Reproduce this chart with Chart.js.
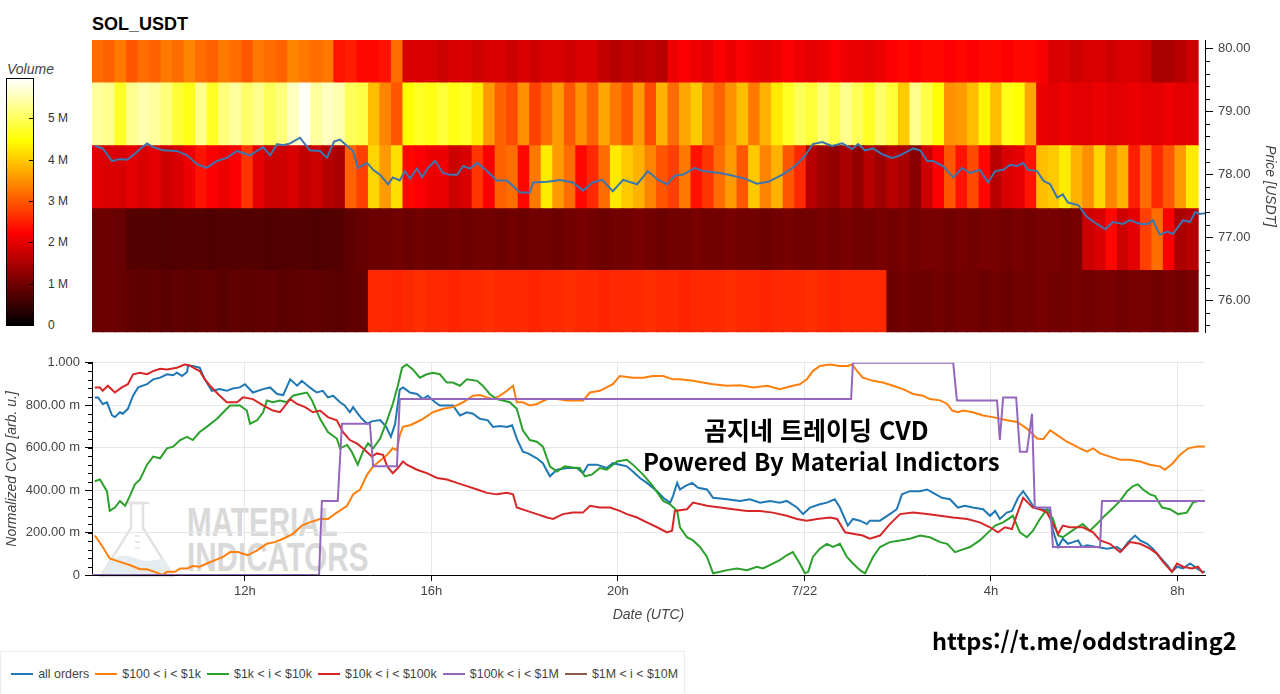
<!DOCTYPE html>
<html lang="ko">
<head>
<meta charset="UTF-8">
<title>SOL_USDT CVD</title>
<script src="https://cdn.jsdelivr.net/npm/chart.js@4.4.1/dist/chart.umd.min.js"></script>
<style>
    body {
        margin: 0;
        width: 1280px;
        height: 694px;
        background: #fff;
        position: relative;
        overflow: hidden;
        font-family: "Liberation Sans", Arial, sans-serif;
    }
    canvas { position: absolute; left: 0; z-index: 2; }
    #heat { top: 0; }
    #cvd { top: 350px; }
    #title {
        position: absolute; left: 92px; top: 15px;
        font: bold 18px/18px "Liberation Sans", Arial, sans-serif; color: #000;
    }
    #volLabel {
        position: absolute; left: 7px; top: 62px;
        font: italic 14px/14px "Liberation Sans", Arial, sans-serif; color: #444;
    }
    #cbar {
        position: absolute; left: 6px; top: 78px; width: 28px; height: 248px;
        box-sizing: border-box; border: 1px solid #000;
    }
    .cb-lbl {
        position: absolute; left: 48px;
        font: 12px/12px "Liberation Sans", Arial, sans-serif; color: #333;
    }
    .cb-tick { position: absolute; left: 29px; width: 5px; height: 1px; background: #000; }
    #wm { position: absolute; left: 95px; top: 498px; z-index: 1; }
    #wmText {
        position: absolute; left: 187px; top: 505px; z-index: 1;
        font: bold 40px/35px "Liberation Sans", Arial, sans-serif; color: #d9d9d9;
        transform: scaleX(0.74); transform-origin: left top; white-space: nowrap;
    }
    .kr {
        position: absolute; z-index: 3; white-space: nowrap; color: #000;
        font-family: "Noto Sans CJK KR", "Noto Sans", sans-serif; font-weight: bold;
    }
    #legend {
        position: absolute; left: 0; top: 651px; width: 685px; height: 60px;
        border: 1px solid #ececec; box-sizing: border-box;
        display: flex; align-items: flex-start; padding: 15px 0 0 10px;
        font: 12.4px/14px "Liberation Sans", Arial, sans-serif; color: #444;
    }
    .lg-line { display: inline-block; width: 23px; height: 2px; margin: 6px 5px 0 0; }
    .lg-text { margin-right: 6px; white-space: nowrap; }
</style>
</head>
<body>
<div id="title">SOL_USDT</div>
<div id="volLabel">Volume</div>
<div id="cbar"></div>

<svg id="wm" width="82" height="80" viewBox="0 0 82 80">
    <path d="M6 78 L36 30 L36 5 L48 5 L48 30 L78 78 Z" fill="none" stroke="#e2e2e2" stroke-width="2.5"/>
    <path d="M30 5 L54 5" stroke="#e2e2e2" stroke-width="2.5"/>
    <path d="M16 62 Q28 54 40 60 Q54 66 68 60 L78 78 L6 78 Z" fill="#e6edf1"/>
    <path d="M40 38 L45 38 M40 44 L45 44 M40 50 L45 50" stroke="#e2e2e2" stroke-width="1.5"/>
</svg>
<div id="wmText">MATERIAL<br>INDICATORS</div>

<canvas id="heat" width="1280" height="345"></canvas>
<canvas id="cvd" width="1280" height="280"></canvas>

<div class="kr" id="kr1" style="left:704px; top:414px; font-size:25px; line-height:30px;">곰지네 트레이딩 CVD</div>
<div class="kr" id="kr2" style="left:643px; top:446px; font-size:24px; line-height:30px;">Powered By Material Indictors</div>
<div class="kr" id="url" style="left:932px; top:625px; font-size:23.5px; line-height:30px;">https://t.me/oddstrading2</div>

<div id="legend"></div>

<script>
    // ---- time axis (hours from 7/21 00:00 UTC) ----
    const T0 = 8.72, T1 = 32.59;
    const timeTicks = [12, 16, 20, 24, 28, 32];
    const timeTickLabels = ['12h', '16h', '20h', '7/22', '4h', '8h'];

    // ---- heatmap: volume (M) per price bin, 96 time columns ----
    const heatStart = 8.72, heatStep = 0.2471;
    const priceBinEdges = [75.47, 76.47, 77.45, 78.45, 79.45, 80.45];
    const vol76 = [0.95,0.95,0.9,
        0.85,0.82,0.85,0.8,0.85,0.82,0.85, 0.85,0.8,0.85,0.82,0.85,0.85,0.8, 0.82,0.85,0.85,0.82,0.8,0.85,0.85,
        2.6,2.6,2.55,2.6,2.65,2.6,2.6,2.55,2.6, 2.6,2.65,2.6,2.6,2.6,2.55,2.6,2.6,2.65,
        2.6,2.6,2.55,2.6,2.6,2.6,2.65,2.6,2.6, 2.55,2.6,2.6,2.6,2.65,2.6,2.6,2.55,2.6,
        2.6,2.6,2.65,2.6,2.55,2.6,2.6,2.6,2.6,
        0.95,1.0,0.95,0.95,1.0,0.95,1.0,1.0,0.95, 1.0,0.95,1.0,1.0,1.05,1.0,1.0,1.05,1.0,
        1.05,1.05,1.0,1.05,1.05,1.0,1.05,1.0,1.05];
    const vol77 = [0.95,0.95,0.9,
        0.75,0.72,0.75,0.7,0.72,0.75,0.72,0.7,0.75,0.72,0.72,0.75,0.7,0.72,0.75,0.72,0.7,0.72,0.75,
        0.85,0.9,0.95,0.95,1.0,0.95,1.0,0.95, 0.95,1.0,0.95,1.0,1.0,0.95,1.0,0.95,
        1.0,1.0,0.95,1.0,1.05,1.0,0.95,1.0, 1.0,1.05,1.0,0.95,1.0,1.0,1.05,1.0,
        1.0,1.05,1.0,1.0,0.95,1.0,1.05,1.0, 1.0,1.05,1.0,1.05,1.0,1.0,1.05,1.0,
        1.05,1.0,1.05,1.05,1.0,1.05,1.0,1.05, 1.05,1.0,1.05,1.0,1.05,1.05,1.0,1.05,
        1.8,1.9,2.3,1.8,2.0,2.8,3.2,2.2,1.5,1.6];
    const vol78 = [2.0,1.9,1.9,2.0,1.9,2.0,1.8,1.9,2.1,2.4,
        2.2,2.1,2.2,2.7,2.0,1.8,1.8,1.9,1.7,1.8,
        1.6,1.5,3.1,2.8,4.1,3.6,4.2,2.3,2.2,2.1,
        2.1,1.8,1.9,2.7,2.2,3.1,3.2,2.3,3.3,4.3,
        3.6,3.2,2.3,2.6,3.2,4.3,4.0,3.8,3.4,3.0,
        2.8,3.3,2.4,2.7,3.2,3.6,3.0,4.0,3.4,3.8,
        3.0,2.6,1.6,1.4,1.3,1.5,1.3,1.6,1.4,1.6,
        1.5,1.2,1.8,2.2,3.0,2.4,2.9,2.3,1.6,1.9,
        2.0,2.4,3.9,4.0,4.3,3.8,3.5,4.1,3.4,3.8,
        2.5,3.2,2.6,3.0,3.6,4.3];
    const vol79 = [5.4,5.3,4.7,5.3,5.5,5.4,5.2,4.8,4.6,5.3,
        4.7,5.2,5.4,5.1,5.3,5.0,5.2,5.6,5.9,5.4,
        5.6,5.5,5.0,4.9,3.9,3.4,3.0,4.5,4.7,4.6,
        4.8,4.6,4.7,4.3,3.6,3.1,2.9,3.5,2.8,3.2,
        3.6,3.0,3.5,3.1,3.7,3.3,3.0,3.6,2.9,3.8,
        3.2,3.7,4.0,3.4,3.1,3.5,3.9,3.3,3.8,4.3,
        4.7,5.0,4.8,5.2,4.9,5.3,5.0,4.7,5.1,4.8,
        4.0,5.3,4.9,4.5,3.5,3.6,3.9,4.4,3.9,4.6,
        4.5,3.7,2.1,2.0,2.1,2.0,2.0,2.1,2.0,2.0,
        2.1,2.0,2.0,2.1,2.0,2.0];
    const vol80 = [3.2,3.1,3.3,3.0,3.2,3.1,3.3, 3.2,3.4,3.2,3.1,3.3,3.2,3.0, 3.3,3.2,3.1,3.4,3.3,3.2,3.3,
        2.4,2.5,2.3,2.3,2.4,3.2,1.9,
        1.9,1.9,1.8,1.9,1.9,1.8,1.9,1.9,1.8,1.9,1.8,1.9,1.9,1.8,1.9,1.9,1.7,
        1.6,1.7,1.6,1.7,1.6,
        2.1,2.2,2.1,2.0,2.2,2.1,2.2,2.1, 2.0,2.1,2.2,2.1,2.0,2.1,2.2,2.1,
        2.1,2.0,2.1,2.2,2.3,2.2,2.3,2.3, 2.2,2.3,2.2,2.3,2.3,2.2,2.3,2.3,
        2.2,
        1.9,1.9,1.8,1.9,1.9,1.8,1.9,1.9,1.8,
        1.5,1.5,1.6,
        1.8];
    const volumeBins = [vol76, vol77, vol78, vol79, vol80];
    const volMax = 5.97;
    const colorbarTicks = [0, 1, 2, 3, 4, 5];
    const colorbarLabels = ['0', '1 M', '2 M', '3 M', '4 M', '5 M'];

    // ---- price overlay [hour, USDT] ----
    const priceTicks = [76, 77, 78, 79, 80];
    const priceLine = [[8.78,78.45],[8.95,78.41],[9.15,78.21],[9.32,78.24],[9.47,78.23],[9.60,78.30],[9.75,78.40],[9.90,78.49],
        [10.03,78.43],[10.24,78.38],[10.54,78.37],[10.76,78.30],[10.97,78.16],[11.18,78.10],[11.40,78.21],[11.61,78.26],
        [11.83,78.37],[12.11,78.30],[12.39,78.43],[12.54,78.30],[12.69,78.48],[12.82,78.46],[12.97,78.49],[13.18,78.58],
        [13.39,78.38],[13.61,78.37],[13.76,78.26],[13.91,78.52],[14.04,78.55],[14.19,78.45],[14.32,78.37],[14.42,78.10],
        [14.62,78.18],[14.75,78.07],[14.90,77.99],[15.07,77.84],[15.17,77.95],[15.32,77.90],[15.43,78.05],[15.54,77.93],
        [15.69,78.09],[15.80,77.95],[15.92,78.10],[16.08,78.21],[16.25,78.02],[16.40,77.99],[16.55,77.99],[16.68,78.13],
        [16.83,78.09],[16.98,78.18],[17.19,78.05],[17.40,77.90],[17.62,77.90],[17.90,77.71],[18.11,77.71],[18.18,77.87],
        [18.48,77.88],[18.76,77.91],[19.03,77.87],[19.25,77.74],[19.46,77.87],[19.66,77.91],[19.89,77.73],[20.11,77.91],
        [20.41,77.84],[20.64,78.05],[20.86,77.91],[21.05,77.84],[21.22,77.98],[21.39,77.99],[21.65,78.10],[21.82,78.05],
        [22.19,78.02],[22.45,77.98],[22.72,77.93],[22.98,77.85],[23.22,77.88],[23.52,77.99],[23.80,78.13],[24.01,78.29],
        [24.18,78.48],[24.38,78.51],[24.59,78.45],[24.81,78.49],[25.02,78.40],[25.15,78.48],[25.30,78.38],[25.47,78.41],
        [25.66,78.32],[25.88,78.26],[26.05,78.30],[26.33,78.41],[26.48,78.38],[26.63,78.21],[26.76,78.21],[26.97,78.13],
        [27.19,77.95],[27.38,78.10],[27.55,78.02],[27.76,78.07],[27.94,77.87],[28.09,78.05],[28.26,78.07],[28.41,78.15],
        [28.56,78.13],[28.69,78.18],[28.79,78.07],[28.99,78.05],[29.12,77.90],[29.27,77.84],[29.42,77.63],[29.54,77.68],
        [29.65,77.55],[29.87,77.51],[30.06,77.32],[30.27,77.21],[30.45,77.13],[30.62,77.24],[30.83,77.21],[30.98,77.27],
        [31.20,77.21],[31.37,77.21],[31.47,77.27],[31.62,77.04],[31.78,77.09],[31.90,77.05],[32.12,77.27],[32.27,77.24],
        [32.38,77.40],[32.48,77.37],[32.59,77.38]];

    // ---- normalized CVD [hour, value] ----
    const cvdTicks = [0, 0.2, 0.4, 0.6, 0.8, 1.0];
    const cvdTickLabels = ['0', '200.00 m', '400.00 m', '600.00 m', '800.00 m', '1.000'];
    const seriesNames = ['all orders', '$100 < i < $1k', '$1k < i < $10k', '$10k < i < $100k', '$100k < i < $1M', '$1M < i < $10M'];
    const seriesColors = ['#1f77b4', '#ff7f0e', '#2ca02c', '#d62728', '#9467bd', '#8c564b'];

    const allOrders = [[8.78,0.837],[8.85,0.837],[8.95,0.806],[9.04,0.814],[9.15,0.752],[9.21,0.744],[9.32,0.767],[9.38,0.760],
        [9.49,0.783],[9.60,0.845],[9.71,0.884],[9.90,0.899],[10.03,0.922],[10.18,0.930],[10.33,0.946],[10.46,0.941],
        [10.54,0.953],[10.65,0.938],[10.76,0.957],[10.78,0.987],[10.88,0.985],[11.03,0.977],[11.14,0.922],[11.29,0.868],
        [11.46,0.876],[11.61,0.868],[11.74,0.879],[11.89,0.884],[12.00,0.899],[12.17,0.860],[12.39,0.876],[12.54,0.884],
        [12.69,0.853],[12.82,0.848],[12.97,0.922],[13.12,0.892],[13.22,0.915],[13.39,0.884],[13.54,0.860],[13.67,0.868],
        [13.78,0.837],[13.89,0.845],[14.04,0.814],[14.14,0.799],[14.25,0.767],[14.32,0.791],[14.42,0.760],[14.51,0.736],
        [14.62,0.713],[14.72,0.724],[14.90,0.730],[15.03,0.698],[15.13,0.651],[15.22,0.712],[15.32,0.874],[15.39,0.884],
        [15.54,0.860],[15.69,0.853],[15.82,0.829],[15.92,0.845],[16.08,0.814],[16.18,0.799],[16.33,0.799],[16.46,0.799],
        [16.61,0.752],[16.76,0.767],[16.89,0.760],[17.04,0.736],[17.21,0.729],[17.32,0.698],[17.47,0.702],[17.62,0.698],
        [17.73,0.706],[17.83,0.643],[17.96,0.581],[18.07,0.573],[18.26,0.550],[18.39,0.527],[18.54,0.465],[18.69,0.496],
        [18.91,0.504],[19.12,0.504],[19.25,0.480],[19.36,0.520],[19.55,0.520],[19.76,0.504],[19.89,0.527],[20.04,0.520],
        [20.19,0.512],[20.32,0.488],[20.47,0.457],[20.62,0.434],[20.84,0.395],[20.97,0.364],[21.12,0.341],[21.18,0.372],
        [21.27,0.434],[21.33,0.403],[21.44,0.419],[21.59,0.434],[21.72,0.411],[21.91,0.403],[22.04,0.364],[22.34,0.357],
        [22.62,0.349],[22.83,0.357],[23.05,0.341],[23.26,0.349],[23.47,0.341],[23.62,0.349],[23.84,0.318],[23.97,0.287],
        [24.12,0.318],[24.33,0.333],[24.48,0.341],[24.65,0.357],[24.76,0.318],[24.93,0.233],[25.04,0.264],[25.19,0.256],
        [25.34,0.240],[25.40,0.256],[25.62,0.256],[25.83,0.287],[25.98,0.310],[26.09,0.380],[26.26,0.395],[26.48,0.395],
        [26.63,0.403],[26.76,0.387],[26.95,0.364],[27.12,0.357],[27.29,0.318],[27.44,0.326],[27.61,0.318],[27.83,0.310],
        [27.98,0.279],[28.09,0.302],[28.19,0.264],[28.34,0.294],[28.45,0.302],[28.58,0.364],[28.69,0.395],[28.79,0.364],
        [28.90,0.326],[29.05,0.310],[29.27,0.306],[29.33,0.209],[29.44,0.132],[29.54,0.171],[29.65,0.147],[29.76,0.155],
        [29.87,0.163],[29.95,0.132],[30.06,0.140],[30.27,0.132],[30.49,0.124],[30.70,0.132],[30.81,0.116],[30.94,0.155],
        [31.09,0.186],[31.20,0.163],[31.35,0.147],[31.47,0.124],[31.62,0.085],[31.78,0.047],[31.88,0.015],[31.99,0.039],
        [32.12,0.031],[32.27,0.054],[32.42,0.031],[32.53,0.015],[32.59,0.015]];

    const orders100 = [[8.78,0.186],[8.95,0.132],[9.10,0.078],[9.32,0.062],[9.53,0.047],[9.75,0.027],[9.90,0.027],[10.11,0.011],
        [10.22,0.000],[10.33,0.015],[10.50,0.015],[10.61,0.031],[10.76,0.031],[10.88,0.042],[11.03,0.039],[11.18,0.054],
        [11.36,0.070],[11.53,0.085],[11.68,0.108],[11.85,0.108],[12.06,0.093],[12.26,0.116],[12.47,0.147],[12.64,0.155],
        [12.82,0.171],[13.03,0.194],[13.22,0.233],[13.39,0.248],[13.61,0.264],[13.78,0.264],[13.97,0.294],[14.19,0.326],
        [14.32,0.380],[14.47,0.403],[14.62,0.473],[14.75,0.512],[14.96,0.550],[15.05,0.566],[15.17,0.597],[15.26,0.589],
        [15.32,0.659],[15.39,0.698],[15.54,0.706],[15.69,0.721],[15.82,0.736],[16.03,0.767],[16.25,0.783],[16.46,0.791],
        [16.68,0.814],[16.89,0.845],[17.04,0.848],[17.19,0.837],[17.32,0.829],[17.47,0.845],[17.62,0.868],[17.75,0.892],
        [17.83,0.814],[17.96,0.814],[18.11,0.799],[18.26,0.806],[18.48,0.829],[18.69,0.829],[18.91,0.822],[19.12,0.822],
        [19.25,0.822],[19.40,0.860],[19.61,0.868],[19.89,0.899],[20.04,0.938],[20.32,0.930],[20.54,0.930],[20.75,0.938],
        [20.97,0.938],[21.18,0.922],[21.33,0.922],[21.61,0.915],[21.82,0.907],[22.04,0.899],[22.34,0.892],[22.62,0.894],
        [22.90,0.884],[23.20,0.892],[23.47,0.876],[23.75,0.892],[23.90,0.899],[24.05,0.922],[24.18,0.961],[24.33,0.985],
        [24.55,0.992],[24.76,0.985],[24.93,0.985],[25.02,0.992],[25.13,0.961],[25.25,0.930],[25.47,0.915],[25.68,0.907],
        [25.90,0.892],[26.11,0.876],[26.33,0.853],[26.54,0.845],[26.69,0.829],[26.91,0.823],[27.06,0.806],[27.17,0.775],
        [27.29,0.767],[27.40,0.775],[27.61,0.767],[27.83,0.752],[28.04,0.744],[28.34,0.729],[28.56,0.721],[28.77,0.690],
        [28.99,0.643],[29.12,0.640],[29.27,0.682],[29.42,0.659],[29.63,0.628],[29.91,0.597],[30.06,0.581],[30.19,0.597],
        [30.34,0.573],[30.55,0.558],[30.77,0.543],[30.98,0.543],[31.20,0.535],[31.41,0.520],[31.62,0.512],[31.73,0.496],
        [31.90,0.527],[32.05,0.566],[32.23,0.597],[32.42,0.605],[32.59,0.605]];

    const orders1k = [[8.78,0.442],[8.89,0.450],[9.04,0.395],[9.10,0.302],[9.21,0.318],[9.32,0.349],[9.43,0.326],[9.53,0.372],
        [9.64,0.427],[9.75,0.450],[9.90,0.520],[10.03,0.558],[10.18,0.550],[10.33,0.597],[10.46,0.605],[10.61,0.636],
        [10.76,0.651],[10.88,0.636],[11.03,0.674],[11.18,0.698],[11.40,0.736],[11.68,0.799],[11.89,0.799],[12.04,0.775],
        [12.11,0.713],[12.26,0.729],[12.39,0.767],[12.47,0.822],[12.60,0.814],[12.75,0.822],[12.90,0.814],[13.03,0.845],
        [13.18,0.853],[13.33,0.860],[13.44,0.822],[13.61,0.736],[13.78,0.674],[13.97,0.643],[14.04,0.597],[14.19,0.613],
        [14.29,0.581],[14.42,0.520],[14.53,0.581],[14.64,0.620],[14.75,0.597],[14.90,0.643],[15.05,0.730],[15.17,0.806],
        [15.28,0.892],[15.37,0.977],[15.47,0.992],[15.60,0.969],[15.75,0.930],[15.90,0.946],[16.03,0.953],[16.18,0.946],
        [16.33,0.907],[16.46,0.907],[16.61,0.892],[16.76,0.922],[16.98,0.915],[17.10,0.892],[17.25,0.853],[17.40,0.829],
        [17.53,0.822],[17.68,0.814],[17.83,0.783],[17.96,0.682],[18.11,0.636],[18.26,0.628],[18.39,0.605],[18.54,0.512],
        [18.69,0.488],[18.86,0.512],[19.03,0.507],[19.18,0.504],[19.29,0.465],[19.44,0.473],[19.61,0.504],[19.76,0.496],
        [19.98,0.535],[20.19,0.543],[20.32,0.520],[20.54,0.473],[20.75,0.419],[20.97,0.349],[21.12,0.333],[21.27,0.302],
        [21.33,0.225],[21.48,0.178],[21.61,0.163],[21.76,0.132],[21.91,0.085],[22.04,0.008],[22.19,0.015],[22.34,0.023],
        [22.55,0.031],[22.77,0.023],[22.98,0.039],[23.11,0.031],[23.32,0.054],[23.47,0.070],[23.62,0.093],[23.75,0.108],
        [23.90,0.054],[24.01,0.008],[24.08,0.015],[24.18,0.085],[24.33,0.124],[24.48,0.147],[24.61,0.132],[24.76,0.147],
        [24.91,0.085],[25.04,0.054],[25.19,0.023],[25.30,0.008],[25.47,0.085],[25.62,0.132],[25.83,0.155],[26.05,0.163],
        [26.26,0.171],[26.48,0.186],[26.69,0.178],[26.91,0.155],[27.06,0.147],[27.23,0.108],[27.34,0.116],[27.55,0.132],
        [27.76,0.163],[27.98,0.209],[28.09,0.233],[28.26,0.248],[28.47,0.279],[28.62,0.201],[28.77,0.178],[28.90,0.209],
        [29.05,0.264],[29.20,0.310],[29.33,0.264],[29.44,0.186],[29.54,0.178],[29.69,0.201],[29.85,0.225],[29.97,0.240],
        [30.12,0.209],[30.27,0.240],[30.40,0.271],[30.55,0.302],[30.77,0.349],[30.92,0.395],[31.05,0.419],[31.15,0.427],
        [31.26,0.403],[31.41,0.380],[31.52,0.372],[31.67,0.318],[31.84,0.310],[32.01,0.287],[32.20,0.294],[32.33,0.341],
        [32.44,0.349]];

    const orders10k = [[8.78,0.884],[8.89,0.884],[8.95,0.868],[9.06,0.892],[9.21,0.860],[9.36,0.884],[9.49,0.899],[9.60,0.946],
        [9.75,0.953],[9.90,0.946],[10.03,0.961],[10.18,0.972],[10.33,0.969],[10.54,0.977],[10.71,0.992],[10.82,0.987],
        [10.93,0.972],[11.03,0.961],[11.14,0.922],[11.25,0.892],[11.46,0.845],[11.61,0.814],[11.83,0.814],[11.96,0.837],
        [12.17,0.829],[12.39,0.799],[12.60,0.775],[12.75,0.767],[12.97,0.829],[13.12,0.806],[13.29,0.791],[13.46,0.767],
        [13.61,0.775],[13.78,0.744],[13.97,0.729],[14.10,0.674],[14.25,0.636],[14.40,0.620],[14.53,0.597],[14.72,0.558],
        [14.83,0.573],[14.96,0.566],[15.05,0.512],[15.17,0.480],[15.28,0.504],[15.39,0.535],[15.47,0.520],[15.69,0.496],
        [15.90,0.480],[16.12,0.457],[16.33,0.450],[16.55,0.434],[16.76,0.419],[16.98,0.403],[17.19,0.387],[17.40,0.380],
        [17.62,0.387],[17.75,0.380],[17.83,0.318],[18.05,0.302],[18.26,0.287],[18.48,0.271],[18.61,0.264],[18.82,0.287],
        [19.03,0.294],[19.25,0.294],[19.40,0.326],[19.61,0.318],[19.83,0.318],[20.04,0.302],[20.19,0.287],[20.41,0.271],
        [20.62,0.248],[20.84,0.225],[21.05,0.201],[21.16,0.209],[21.22,0.302],[21.48,0.310],[21.61,0.341],[21.91,0.326],
        [22.19,0.318],[22.47,0.310],[22.77,0.302],[23.05,0.302],[23.32,0.294],[23.62,0.279],[23.84,0.264],[24.05,0.256],
        [24.27,0.264],[24.55,0.271],[24.70,0.264],[24.87,0.201],[25.04,0.194],[25.25,0.186],[25.40,0.171],[25.62,0.186],
        [25.83,0.240],[26.05,0.287],[26.33,0.294],[26.63,0.287],[26.91,0.279],[27.19,0.271],[27.49,0.264],[27.76,0.248],
        [27.98,0.225],[28.15,0.201],[28.30,0.225],[28.45,0.217],[28.56,0.287],[28.69,0.364],[28.79,0.341],[28.90,0.318],
        [29.05,0.310],[29.20,0.294],[29.33,0.240],[29.44,0.194],[29.54,0.233],[29.69,0.225],[29.85,0.225],[29.97,0.225],
        [30.19,0.201],[30.34,0.163],[30.55,0.147],[30.77,0.108],[30.98,0.155],[31.20,0.147],[31.41,0.124],[31.56,0.101],
        [31.69,0.062],[31.88,0.015],[31.99,0.054],[32.12,0.039],[32.31,0.031],[32.44,0.039],[32.55,0.008]];

    const orders100k = [[8.72,0],[13.59,0],[13.65,0.349],[13.99,0.349],[14.08,0.713],[14.68,0.713],[14.75,0.512],[15.26,0.512],
        [15.32,0.829],[25.00,0.829],[25.04,1.0],[27.19,1.0],[27.27,0.822],[28.13,0.822],[28.19,0.636],[28.26,0.837],
        [28.54,0.837],[28.62,0.581],[28.77,0.581],[28.88,0.760],[28.94,0.318],[29.27,0.318],[29.33,0.132],[30.34,0.132],
        [30.38,0.349],[32.59,0.349]];

    const orders1M = [];

    const cvdSeries = [allOrders, orders100, orders1k, orders10k, orders100k, orders1M];

    // ---- helpers ----
    function hot(v) {
        const t = Math.max(0, Math.min(1, v / volMax));
        const r = Math.min(1, t / 0.375);
        const g = Math.max(0, Math.min(1, (t - 0.375) / 0.375));
        const b = Math.max(0, Math.min(1, (t - 0.75) / 0.25));
        return `rgb(${Math.round(r * 255)},${Math.round(g * 255)},${Math.round(b * 255)})`;
    }

    const minorTicks = {
        id: 'minorTicks',
        afterDraw(chart, args, opts) {
            const ctx = chart.ctx;
            (opts.axes || []).forEach(a => {
                const s = chart.scales[a.id];
                ctx.save();
                ctx.strokeStyle = '#000';
                ctx.lineWidth = 1;
                ctx.beginPath();
                for (let v = a.from; v <= a.to + 1e-9; v += a.step) {
                    const p = Math.round(s.getPixelForValue(v)) + 0.5;
                    if (a.side === 'left') {
                        ctx.moveTo(s.right, p); ctx.lineTo(s.right - a.len, p);
                    } else {
                        ctx.moveTo(s.left, p); ctx.lineTo(s.left + a.len, p);
                    }
                }
                ctx.stroke();
                ctx.restore();
            });
        }
    };

    Chart.defaults.font.family = '"Liberation Sans", Arial, sans-serif';
    Chart.defaults.color = '#444';

    // ---- colour bar ----
    const cbar = document.getElementById('cbar');
    cbar.style.background = 'linear-gradient(to top, ' + [0, 0.375, 0.75, 1].map(t => hot(t * volMax) + ' ' + (t * 100) + '%').join(', ') + ')';
    colorbarTicks.forEach((v, i) => {
        const y = 325 - v / volMax * 247;
        const lbl = document.createElement('div');
        lbl.className = 'cb-lbl';
        lbl.style.top = (y - 6) + 'px';
        lbl.textContent = colorbarLabels[i];
        document.body.appendChild(lbl);
        if (v > 0) {
            const tk = document.createElement('div');
            tk.className = 'cb-tick';
            tk.style.top = Math.round(y) + 'px';
            document.body.appendChild(tk);
        }
    });

    // ---- heatmap + price ----
    const heatDatasets = volumeBins.map((vols, b) => ({
        type: 'bar',
        data: vols.map((v, i) => ({ x: heatStart + (i + 0.5) * heatStep, y: [priceBinEdges[b], priceBinEdges[b + 1]] })),
        backgroundColor: vols.map(hot),
        borderWidth: 0,
        borderSkipped: false,
        inflateAmount: 0.6,
        barPercentage: 1,
        categoryPercentage: 1,
        grouped: false,
        order: 2
    }));

    new Chart(document.getElementById('heat'), {
        type: 'bar',
        data: {
            datasets: [...heatDatasets, {
                type: 'line',
                data: priceLine.map(p => ({ x: p[0], y: p[1] })),
                borderColor: '#3b76af',
                borderWidth: 2,
                pointRadius: 0,
                tension: 0,
                order: 1
            }]
        },
        options: {
            responsive: false,
            animation: false,
            events: [],
            layout: { padding: { left: 92, top: 40, bottom: 8, right: 0 } },
            plugins: {
                legend: { display: false },
                tooltip: { enabled: false },
                minorTicks: { axes: [{ id: 'y', from: 75.6, to: 80.0, step: 0.2, len: 5, side: 'right' }] }
            },
            scales: {
                x: { type: 'linear', min: T0, max: T1, offset: false, display: false },
                y: {
                    type: 'linear',
                    position: 'right',
                    min: 75.49,
                    max: 80.133,
                    afterBuildTicks: s => { s.ticks = priceTicks.map(v => ({ value: v })); },
                    afterFit: s => { s.width = 75; },
                    ticks: { callback: v => Number(v).toFixed(2), font: { size: 13 }, color: '#444', padding: 5 },
                    grid: { drawOnChartArea: false, tickLength: 8, tickColor: '#000' },
                    border: { color: '#000', width: 1 },
                    title: { display: true, text: 'Price [USDT]', font: { size: 14, style: 'italic' }, color: '#444', padding: { top: 2, bottom: 4 } }
                }
            }
        },
        plugins: [minorTicks]
    });

    // ---- CVD lines ----
    new Chart(document.getElementById('cvd'), {
        type: 'line',
        data: {
            datasets: cvdSeries.map((s, i) => ({
                label: seriesNames[i],
                data: s.map(p => ({ x: p[0], y: p[1] })),
                borderColor: seriesColors[i],
                borderWidth: 2,
                pointRadius: 0,
                tension: 0,
                order: 6 - i
            }))
        },
        options: {
            responsive: false,
            animation: false,
            events: [],
            layout: { padding: { left: 0, top: 10, bottom: 0, right: 75 } },
            plugins: {
                legend: { display: false },
                tooltip: { enabled: false },
                minorTicks: { axes: [{ id: 'y', from: 0, to: 1, step: 0.04, len: 4, side: 'left' }] }
            },
            scales: {
                x: {
                    type: 'linear',
                    min: T0,
                    max: T1,
                    afterBuildTicks: s => { s.ticks = timeTicks.map(v => ({ value: v })); },
                    afterFit: s => { s.height = 55; },
                    ticks: { callback: v => timeTickLabels[timeTicks.indexOf(v)], font: { size: 13 }, color: '#444', padding: 3, maxRotation: 0 },
                    grid: { color: '#e6e6e6', tickColor: '#000', tickLength: 6 },
                    border: { color: '#000', width: 1 },
                    title: { display: true, text: 'Date (UTC)', font: { size: 14, style: 'italic' }, color: '#444', padding: { top: 0, bottom: 6 } }
                },
                y: {
                    type: 'linear',
                    min: 0,
                    max: 1,
                    afterBuildTicks: s => { s.ticks = cvdTicks.map(v => ({ value: v })); },
                    afterFit: s => { s.width = 92; },
                    ticks: { callback: (v, i) => cvdTickLabels[i], font: { size: 13 }, color: '#444', padding: 5 },
                    grid: { color: '#e6e6e6', tickColor: '#000', tickLength: 7 },
                    border: { color: '#000', width: 1 },
                    title: { display: true, text: 'Normalized CVD [arb. u.]', font: { size: 14, style: 'italic' }, color: '#444', padding: { top: 4, bottom: 2 } }
                }
            }
        },
        plugins: [minorTicks]
    });

    // ---- legend ----
    const legend = document.getElementById('legend');
    seriesNames.forEach((name, i) => {
        const line = document.createElement('span');
        line.className = 'lg-line';
        line.style.background = seriesColors[i];
        const txt = document.createElement('span');
        txt.className = 'lg-text';
        txt.textContent = name;
        legend.appendChild(line);
        legend.appendChild(txt);
    });
</script>
</body>
</html>
